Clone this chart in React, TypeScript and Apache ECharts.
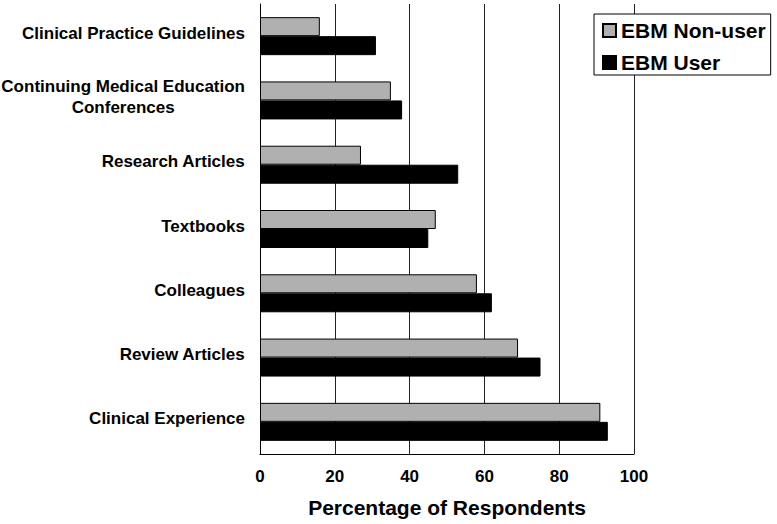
import React, { useEffect, useRef } from "react";
import * as echarts from "echarts";

const categories = [
  "Clinical Practice Guidelines",
  "Continuing Medical Education\nConferences",
  "Research Articles",
  "Textbooks",
  "Colleagues",
  "Review Articles",
  "Clinical Experience",
];
const nonUserValues = [16, 35, 27, 47, 58, 69, 91];
const userValues = [31, 38, 53, 45, 62, 75, 93];
const xTicks = [0, 20, 40, 60, 80, 100];
const seriesNames = ["EBM Non-user", "EBM User"];

const FONT = "'Liberation Sans', Arial, Helvetica, sans-serif";

export default function App() {
  const ref = useRef<HTMLDivElement>(null);
  useEffect(() => {
    document.body.style.margin = "0";
    const chart = echarts.init(ref.current!, null, { renderer: "svg" });
    chart.setOption({
      animation: false,
      backgroundColor: "#ffffff",
      textStyle: { fontFamily: FONT },
      grid: {
        left: 260,
        right: 143,
        top: 4,
        bottom: 70,
        containLabel: false,
        outerBoundsMode: "none",
      },
      legend: {
        orient: "vertical",
        left: 594,
        top: 14,
        padding: [6, 5, 2, 8],
        itemWidth: 13,
        itemHeight: 13,
        itemGap: 11,
        backgroundColor: "#ffffff",
        borderColor: "#000000",
        borderWidth: 1,
        icon: "rect",
        textStyle: {
          fontFamily: FONT,
          fontSize: 21,
          fontWeight: "bold",
          color: "#000",
        },
        data: seriesNames,
      },
      xAxis: {
        type: "value",
        min: xTicks[0],
        max: xTicks[xTicks.length - 1],
        interval: 20,
        name: "Percentage of Respondents",
        nameLocation: "middle",
        nameGap: 43,
        nameTextStyle: {
          fontFamily: FONT,
          fontSize: 21,
          fontWeight: "bold",
          color: "#000",
        },
        axisLine: { show: true, lineStyle: { color: "#000", width: 1 } },
        axisTick: { show: false },
        axisLabel: {
          margin: 14,
          fontFamily: FONT,
          fontSize: 17,
          fontWeight: "bold",
          color: "#000",
        },
        splitLine: { show: true, lineStyle: { color: "#222", width: 1 } },
      },
      yAxis: {
        type: "category",
        data: categories,
        inverse: true,
        axisLine: { show: true, lineStyle: { color: "#000", width: 1 } },
        axisTick: { show: false },
        axisLabel: {
          margin: 15,
          padding: [0, 0, 6, 0],
          formatter: (v: string) =>
            v
              .split("\n")
              .map((l) => `{c|${l}}`)
              .join("\n"),
          rich: {
            c: {
              align: "center",
              fontFamily: FONT,
              fontSize: 17,
              fontWeight: "bold",
              color: "#000",
              lineHeight: 21,
            },
          },
        },
        splitLine: { show: false },
      },
      series: [
        {
          name: seriesNames[0],
          type: "bar",
          data: nonUserValues,
          barWidth: 19,
          barGap: "0%",
          itemStyle: { color: "#b0b0b0", borderColor: "#000", borderWidth: 1 },
        },
        {
          name: seriesNames[1],
          type: "bar",
          data: userValues,
          barWidth: 19,
          barGap: "0%",
          itemStyle: { color: "#000000", borderColor: "#000", borderWidth: 1 },
        },
      ],
    });
    return () => chart.dispose();
  }, []);
  return (
    <div
      ref={ref}
      style={{ position: "fixed", left: 0, top: 0, width: 777, height: 524 }}
    />
  );
}
